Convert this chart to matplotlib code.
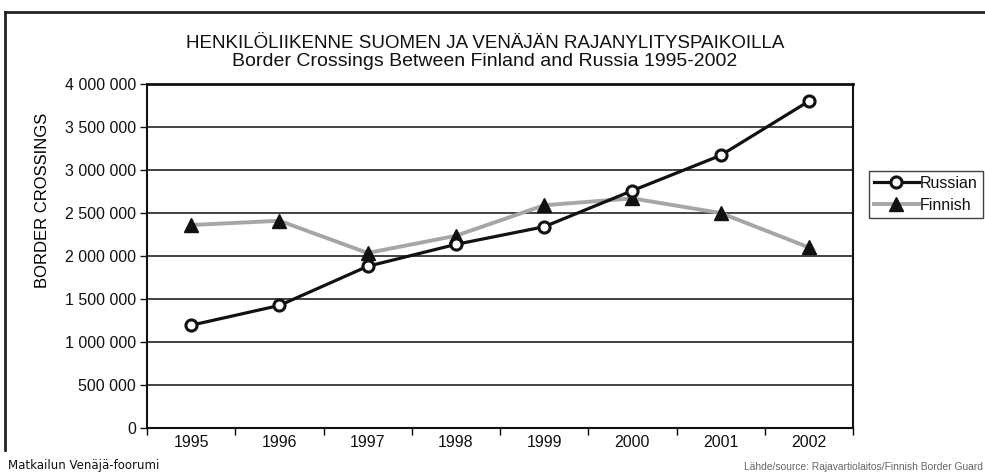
import numpy as np
import matplotlib.pyplot as plt
from matplotlib.lines import Line2D

# Data
years = ["1995", "1996", "1997", "1998", "1999", "2000", "2001", "2002"]
russian = [1195000, 1425000, 1880000, 2135000, 2340000, 2760000, 3170000, 3800000]
finnish = [2360000, 2410000, 2035000, 2235000, 2590000, 2670000, 2500000, 2100000]
yticks = [0, 500000, 1000000, 1500000, 2000000, 2500000, 3000000, 3500000, 4000000]

plt.rcParams['font.family'] = ['Liberation Sans', 'DejaVu Sans']
plt.rcParams['text.color'] = "#111111"

W, H = 985, 475
fig = plt.figure(figsize=(W / 100, H / 100), dpi=100)
ax = fig.add_axes([147 / W, 1 - 428 / H, (853 - 147) / W, (428 - 84) / H])

x = np.arange(len(years))
ax.plot(x, finnish, color="#a6a6a6", lw=2.8, marker="^", ms=10,
        mfc="#111111", mec="#111111", label="Finnish", zorder=3)
ax.plot(x, russian, color="#111111", lw=2.3, marker="o", ms=8,
        mfc="white", mec="#111111", mew=2.2, label="Russian", zorder=4)

ax.set_xlim(-0.5, len(years) - 0.5)
ax.set_ylim(0, 4000000)
ax.set_yticks(yticks)
ax.set_yticklabels([f"{v:,}".replace(",", " ") for v in yticks], fontsize=11.5)
ax.set_xticks(x)
ax.set_xticklabels(years, fontsize=11.5)
ax.set_xticks(np.arange(-0.5, len(years)), minor=True)
ax.tick_params(axis="x", which="major", length=0, pad=5)
ax.tick_params(axis="x", which="minor", length=5, width=1, direction="out")
ax.tick_params(axis="y", length=5, width=1, direction="out", pad=3)
ax.tick_params(colors="#111111")
ax.yaxis.grid(True, color="#222222", lw=1.2)
ax.set_axisbelow(True)
for s in ax.spines.values():
    s.set_color("#111111")
    s.set_linewidth(1.5)
ax.spines["top"].set_linewidth(2)

ax.set_ylabel("BORDER CROSSINGS", fontsize=12)
ax.yaxis.set_label_coords(-0.138, 0.663)

fig.text(485 / W, 1 - 43 / H, "HENKILÖLIIKENNE SUOMEN JA VENÄJÄN RAJANYLITYSPAIKOILLA",
         ha="center", va="center", fontsize=13.5)
fig.text(485 / W, 1 - 62 / H, "Border Crossings Between Finland and Russia 1995-2002",
         ha="center", va="center", fontsize=14)

handles = [Line2D([], [], color="#111111", lw=2.3, marker="o", ms=8, mfc="white",
                  mec="#111111", mew=2.2),
           Line2D([], [], color="#a6a6a6", lw=2.8, marker="^", ms=10,
                  mfc="#111111", mec="#111111")]
leg = fig.legend(handles, ["Russian", "Finnish"], loc="upper left",
                 bbox_to_anchor=(869 / W, 1 - 171 / H), fontsize=11.5,
                 frameon=True, fancybox=False, edgecolor="#111111",
                 borderpad=0.3, handlelength=2.8, handletextpad=0.1,
                 labelspacing=0.45, borderaxespad=0)
leg.get_frame().set_linewidth(1)

# outer frame
fig.add_artist(Line2D([5 / W, 5 / W], [1 - 12 / H, 1 - 450 / H], color="#222222", lw=2))
fig.add_artist(Line2D([5 / W, 1], [1 - 12 / H, 1 - 12 / H], color="#222222", lw=2))

fig.text(8 / W, 1 - 466 / H, "Matkailun Venäjä-foorumi", ha="left", va="center",
         fontsize=8.5, family=["DejaVu Sans"])
fig.text(983 / W, 1 - 467 / H, "Lähde/source: Rajavartiolaitos/Finnish Border Guard",
         ha="right", va="center", fontsize=7.4, color="#666666")

fig.savefig("out.png", dpi=100)
